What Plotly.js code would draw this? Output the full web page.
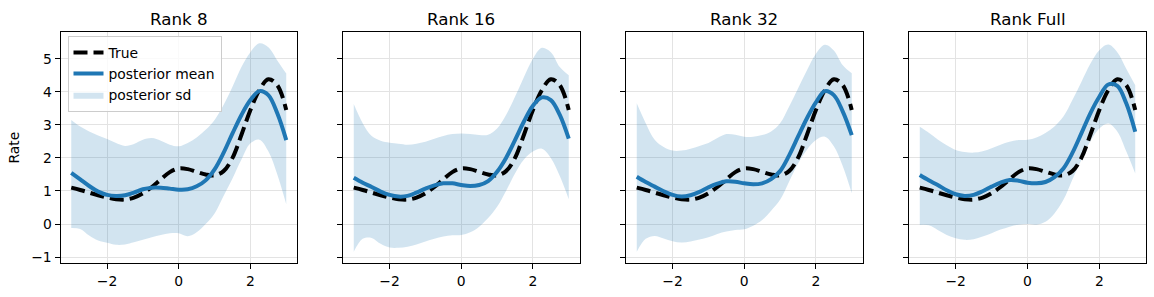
<!DOCTYPE html>
<html>
<head>
<meta charset="utf-8">
<script src="https://cdn.plot.ly/plotly-3.0.1.min.js"></script>
<style>html,body{margin:0;padding:0;background:#fff;}#chart{width:1154px;height:297px;}</style>
</head>
<body>
<div id="chart"></div>
<script>
const xs = [-3,-2.75,-2.5,-2.25,-2,-1.75,-1.5,-1.25,-1,-0.75,-0.5,-0.25,0,0.25,0.5,0.75,1,1.25,1.5,1.75,2,2.25,2.5,2.75,3];
const trueRate = [1.10,1.03,0.95,0.87,0.80,0.75,0.74,0.80,0.93,1.12,1.35,1.57,1.68,1.66,1.58,1.50,1.47,1.60,2.00,2.70,3.45,4.05,4.38,4.20,3.45];

const panelTitles = ["Rank 8","Rank 16","Rank 32","Rank Full"];

const mean8  = [1.55,1.35,1.15,0.98,0.88,0.85,0.87,0.95,1.05,1.10,1.10,1.07,1.04,1.05,1.14,1.32,1.65,2.15,2.74,3.30,3.75,4.02,3.90,3.35,2.54];
const upper8 = [3.15,2.95,2.80,2.68,2.57,2.45,2.36,2.42,2.55,2.60,2.52,2.40,2.35,2.45,2.62,2.85,3.15,3.60,4.15,4.75,5.20,5.47,5.35,4.95,4.55];
const lower8 = [-0.12,-0.15,-0.35,-0.50,-0.57,-0.63,-0.62,-0.55,-0.48,-0.40,-0.33,-0.28,-0.28,-0.37,-0.25,0.00,0.32,0.85,1.38,1.95,2.44,2.55,2.20,1.50,0.60];

const mean16  = [1.40,1.25,1.12,0.98,0.88,0.83,0.85,0.95,1.07,1.17,1.23,1.23,1.18,1.15,1.18,1.30,1.58,2.00,2.54,3.10,3.58,3.83,3.75,3.30,2.58];
const upper16 = [3.63,3.05,2.66,2.52,2.46,2.43,2.40,2.43,2.49,2.58,2.66,2.72,2.74,2.72,2.69,2.70,2.89,3.30,3.85,4.45,5.00,5.33,5.20,4.75,4.50];
const lower16 = [-0.84,-0.45,-0.42,-0.60,-0.71,-0.72,-0.69,-0.62,-0.53,-0.45,-0.38,-0.34,-0.33,-0.25,-0.08,0.18,0.52,1.00,1.53,1.95,2.19,2.28,2.00,1.45,0.75];

const mean32  = [1.43,1.27,1.13,0.99,0.88,0.83,0.87,0.97,1.11,1.22,1.29,1.28,1.23,1.20,1.23,1.36,1.60,2.07,2.64,3.20,3.68,4.02,3.90,3.40,2.69];
const upper32 = [3.65,3.05,2.55,2.33,2.22,2.22,2.28,2.36,2.45,2.60,2.72,2.70,2.64,2.64,2.69,2.80,3.05,3.55,4.10,4.65,5.15,5.42,5.25,4.80,4.56];
const lower32 = [-0.84,-0.45,-0.36,-0.44,-0.52,-0.56,-0.53,-0.47,-0.40,-0.30,-0.23,-0.18,-0.16,-0.05,0.12,0.40,0.73,1.28,1.83,2.25,2.54,2.64,2.35,1.75,0.93];

const meanFull  = [1.48,1.32,1.18,1.02,0.90,0.85,0.88,0.99,1.13,1.25,1.33,1.31,1.25,1.23,1.27,1.42,1.68,2.15,2.74,3.35,3.85,4.22,4.18,3.65,2.79];
const upperFull = [2.94,2.76,2.56,2.38,2.24,2.18,2.16,2.20,2.29,2.40,2.49,2.54,2.55,2.62,2.75,2.95,3.25,3.75,4.30,4.85,5.26,5.43,5.20,4.70,4.20];
const lowerFull = [-0.03,-0.04,-0.18,-0.33,-0.43,-0.48,-0.46,-0.38,-0.28,-0.17,-0.08,-0.02,0.00,-0.02,0.07,0.32,0.73,1.35,1.94,2.50,2.89,3.04,2.80,2.20,1.53];

const xTicks = [-2,0,2];
const yTicks = [-1,0,1,2,3,4,5];

const means = [mean8, mean16, mean32, meanFull];
const uppers = [upper8, upper16, upper32, upperFull];
const lowers = [lower8, lower16, lower32, lowerFull];

const BLUE = '#1f77b4';
const FONT = 'DejaVu Sans, sans-serif';
const xDomains = [[60.5,297],[343,579.5],[626,862.5],[909,1146]].map(d => [d[0]/1154, d[1]/1154]);
const yDomain = [(297-263)/297, (297-32.3)/297];

const traces = [];
for (let i = 0; i < 4; i++) {
  const xa = i === 0 ? 'x' : 'x' + (i+1);
  const ya = i === 0 ? 'y' : 'y' + (i+1);
  const first = i === 0;
  traces.push({x: xs, y: lowers[i], xaxis: xa, yaxis: ya, type: 'scatter', mode: 'lines',
    line: {width: 0, shape: 'spline', color: 'rgba(31,119,180,0)'}, showlegend: false, hoverinfo: 'skip'});
  traces.push({x: xs, y: uppers[i], xaxis: xa, yaxis: ya, type: 'scatter', mode: 'lines',
    line: {width: 0, shape: 'spline', color: 'rgba(31,119,180,0)'}, fill: 'tonexty',
    fillcolor: 'rgba(31,119,180,0.2)', name: 'posterior sd', showlegend: first, legendrank: 3, hoverinfo: 'skip'});
  traces.push({x: xs, y: trueRate, xaxis: xa, yaxis: ya, type: 'scatter', mode: 'lines',
    line: {color: '#000000', width: 4, dash: '14px,6px', shape: 'spline'}, name: 'True', showlegend: first, legendrank: 1});
  traces.push({x: xs, y: means[i], xaxis: xa, yaxis: ya, type: 'scatter', mode: 'lines',
    line: {color: BLUE, width: 4, shape: 'spline'}, name: 'posterior mean', showlegend: first, legendrank: 2});
}

const layout = {
  width: 1154, height: 297,
  margin: {l: 0, r: 0, t: 0, b: 0},
  paper_bgcolor: '#ffffff', plot_bgcolor: '#ffffff',
  font: {family: FONT, size: 13.9, color: '#000000'},
  showlegend: true,
  legend: {x: 67.5/1154, y: (297-36)/297, xanchor: 'left', yanchor: 'top',
    bgcolor: 'rgba(255,255,255,0.8)', bordercolor: '#cccccc', borderwidth: 1,
    font: {family: FONT, size: 13.9, color: '#000000'}, traceorder: 'normal', itemwidth: 30},
  annotations: [],
};

for (let i = 0; i < 4; i++) {
  const suffix = i === 0 ? '' : String(i+1);
  layout['xaxis' + suffix] = {
    domain: xDomains[i], range: [-3.3, 3.3], anchor: 'y' + suffix,
    tickmode: 'array', tickvals: xTicks, ticks: 'outside', ticklen: 5, tickwidth: 1, tickcolor: '#000',
    showline: true, mirror: true, linecolor: '#000', linewidth: 1,
    showgrid: true, gridcolor: '#e3e3e3', gridwidth: 1, zeroline: false,
    tickfont: {family: FONT, size: 13.9, color: '#000'}
  };
  layout['yaxis' + suffix] = {
    domain: yDomain, range: [-1.18, 5.8], anchor: 'x' + suffix,
    tickmode: 'array', tickvals: yTicks, ticks: 'outside', ticklen: 5, tickwidth: 1, tickcolor: '#000',
    showticklabels: i === 0,
    showline: true, mirror: true, linecolor: '#000', linewidth: 1,
    showgrid: true, gridcolor: '#e3e3e3', gridwidth: 1, zeroline: false,
    tickfont: {family: FONT, size: 13.9, color: '#000'}
  };
  layout.annotations.push({
    text: panelTitles[i], xref: 'paper', yref: 'paper',
    x: (xDomains[i][0] + xDomains[i][1]) / 2, y: (297-19)/297,
    xanchor: 'center', yanchor: 'middle', showarrow: false,
    font: {family: FONT, size: 16.7, color: '#000'}
  });
}
layout.yaxis.title = {text: 'Rate', font: {family: FONT, size: 13.9, color: '#000'}, standoff: 8};

Plotly.newPlot('chart', traces, layout, {staticPlot: true, displayModeBar: false});
</script>
</body>
</html>
